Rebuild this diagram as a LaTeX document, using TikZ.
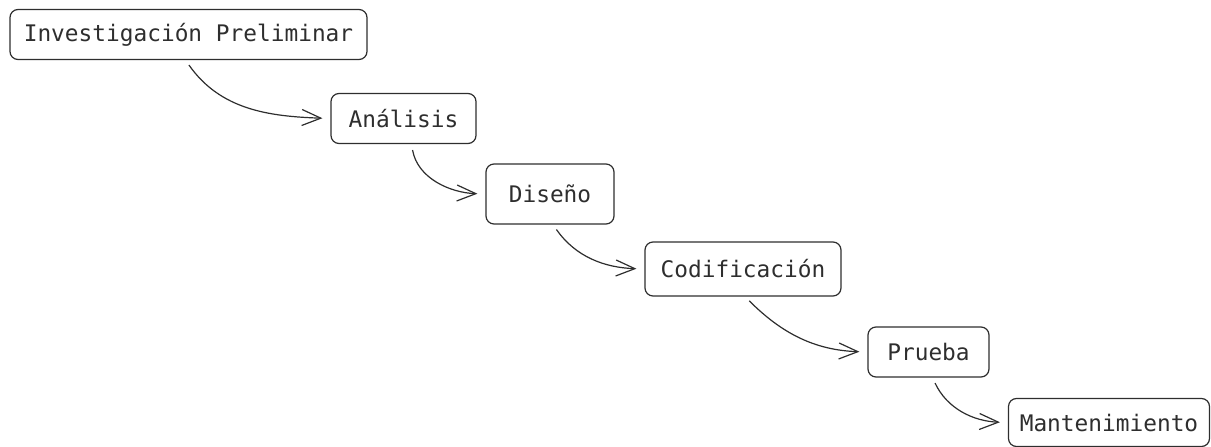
\documentclass[tikz,border=0pt]{standalone}
\usepackage{fontspec}
\setmonofont{DejaVu Sans Mono}
\usetikzlibrary{arrows.meta, positioning}
\definecolor{ink}{HTML}{2E2E2E}

\begin{document}
\begin{tikzpicture}[
x=1pt, y=-1pt,
>={Straight Barb[length=19pt,width=16pt]},
line width=1.2pt,
every node/.style={font=\ttfamily\fontsize{22.8}{26}\selectfont, text=ink},
stage/.style={draw=ink, rounded corners=8pt, minimum height=50pt, inner sep=0pt},
flow/.style={->, draw=ink, shorten <=6pt, shorten >=8pt},
]
\useasboundingbox (0,0) rectangle (1211,447);

\node[stage, minimum width=357pt] (inv) at (188.5,34.5) {Investigación Preliminar};
\node[stage, minimum width=145pt] (ana) at (403.5,118.5) {Análisis};
\node[stage, minimum width=128pt, minimum height=60pt] (dis) at (550,194) {Diseño};
\node[stage, minimum width=196pt, minimum height=54pt] (cod) at (743,269) {Codificación};
\node[stage, minimum width=121pt] (pru) at (928.5,352) {Prueba};
\node[stage, minimum width=201pt, minimum height=48pt] (man) at (1109,422.5) {Mantenimiento};

\draw[flow] ([xshift=-3pt]inv.south) to[out=-55, in=178] (ana.west);
\draw[flow] ([xshift=8pt]ana.south) to[out=-80, in=178] (dis.west);
\draw[flow] ([xshift=3pt]dis.south) to[out=-55, in=178] (cod.west);
\draw[flow] ([xshift=2pt]cod.south) to[out=-45, in=178] (pru.west);
\draw[flow] ([xshift=4pt]pru.south) to[out=-65, in=178] (man.west);
\end{tikzpicture}
\end{document}
